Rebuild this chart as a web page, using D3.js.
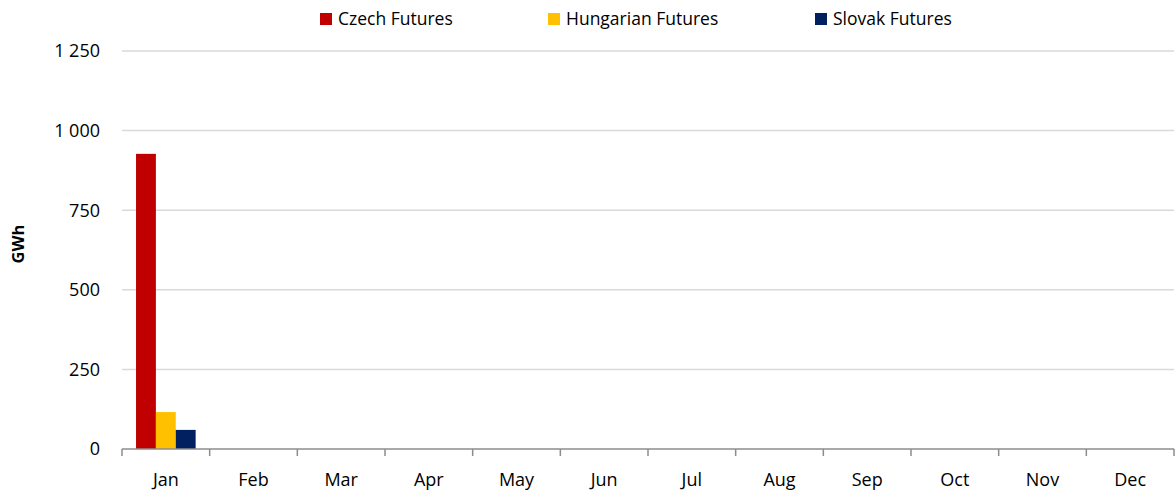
<!DOCTYPE html>
<html>
<head>
<meta charset="utf-8">
<script src="https://cdn.jsdelivr.net/npm/d3@7"></script>
<style>
  body { margin: 0; background: #fff; }
  text { font-family: "Open Sans", Lato, sans-serif; fill: #000; }
</style>
</head>
<body>
<div id="wrapper"></div>
<script>
// data
const months = ["Jan", "Feb", "Mar", "Apr", "May", "Jun", "Jul", "Aug", "Sep", "Oct", "Nov", "Dec"];
const seriesNames = ["Czech Futures", "Hungarian Futures", "Slovak Futures"];
const seriesColors = ["#c00000", "#ffc000", "#002060"];
const czech = [927, 0, 0, 0, 0, 0, 0, 0, 0, 0, 0, 0];
const hungarian = [116, 0, 0, 0, 0, 0, 0, 0, 0, 0, 0, 0];
const slovak = [60, 0, 0, 0, 0, 0, 0, 0, 0, 0, 0, 0];
const yTicks = [0, 250, 500, 750, 1000, 1250];

const seriesValues = [czech, hungarian, slovak];

// dimensions
const width = 1175;
const height = 492;
const margin = { top: 51, right: 1, bottom: 43, left: 122 };
const boundedWidth = width - margin.left - margin.right;
const boundedHeight = height - margin.top - margin.bottom;

const svg = d3.select("#wrapper")
  .append("svg")
  .attr("width", width)
  .attr("height", height);

const bounds = svg.append("g")
  .attr("transform", `translate(${margin.left},${margin.top})`);

// scales
const xScale = d3.scaleBand().domain(months).range([0, boundedWidth]).padding(0);
const bw = xScale.bandwidth();
const innerScale = d3.scaleBand()
  .domain(seriesNames)
  .range([bw * 0.16, bw * 0.84])
  .padding(0);
const yScale = d3.scaleLinear().domain([0, 1250]).range([boundedHeight, 0]);

// gridlines
bounds.append("g")
  .selectAll("line")
  .data(yTicks.filter(d => d > 0))
  .join("line")
  .attr("x1", 0)
  .attr("x2", boundedWidth)
  .attr("y1", d => yScale(d))
  .attr("y2", d => yScale(d))
  .attr("stroke", "#d9d9d9")
  .attr("stroke-width", 1.5);

// y labels
bounds.append("g")
  .selectAll("text")
  .data(yTicks)
  .join("text")
  .attr("x", -22)
  .attr("y", d => yScale(d))
  .attr("dy", "0.36em")
  .attr("text-anchor", "end")
  .style("font-size", "18px")
  .text(d => d3.format(",")(d).replace(/,/g, " "));

// bars
const groups = bounds.append("g")
  .selectAll("g")
  .data(months)
  .join("g")
  .attr("transform", d => `translate(${xScale(d)},0)`);

groups.selectAll("rect")
  .data((m, i) => seriesNames.map((s, j) => ({ series: s, value: seriesValues[j][i], color: seriesColors[j] })))
  .join("rect")
  .attr("x", d => innerScale(d.series))
  .attr("width", innerScale.bandwidth())
  .attr("y", d => yScale(d.value))
  .attr("height", d => boundedHeight - yScale(d.value))
  .attr("fill", d => d.color);

// x axis
const xAxis = bounds.append("g").attr("transform", `translate(0,${boundedHeight})`);
xAxis.append("line")
  .attr("x1", 0).attr("x2", boundedWidth)
  .attr("stroke", "#8c8c8c").attr("stroke-width", 1.5);
xAxis.selectAll(".tick")
  .data(d3.range(months.length + 1))
  .join("line")
  .attr("x1", i => i * bw).attr("x2", i => i * bw)
  .attr("y1", 0).attr("y2", 7)
  .attr("stroke", "#8c8c8c").attr("stroke-width", 1.5);
xAxis.selectAll("text")
  .data(months)
  .join("text")
  .attr("x", d => xScale(d) + bw / 2)
  .attr("y", 37)
  .attr("text-anchor", "middle")
  .style("font-size", "18px")
  .text(d => d);

// y axis title
svg.append("text")
  .attr("transform", `translate(24,${margin.top + boundedHeight / 2 - 6}) rotate(-90)`)
  .attr("text-anchor", "middle")
  .style("font-size", "16.5px")
  .style("font-weight", "bold")
  .text("GWh");

// legend
const legendX = [320, 548, 815];
const legend = svg.append("g")
  .selectAll("g")
  .data(seriesNames)
  .join("g")
  .attr("transform", (d, i) => `translate(${legendX[i]},13)`);
legend.append("rect")
  .attr("width", 12).attr("height", 12)
  .attr("fill", (d, i) => seriesColors[i]);
legend.append("text")
  .attr("x", 18)
  .attr("y", 6)
  .attr("dy", "0.36em")
  .style("font-size", "17.5px")
  .text(d => d);
</script>
</body>
</html>
